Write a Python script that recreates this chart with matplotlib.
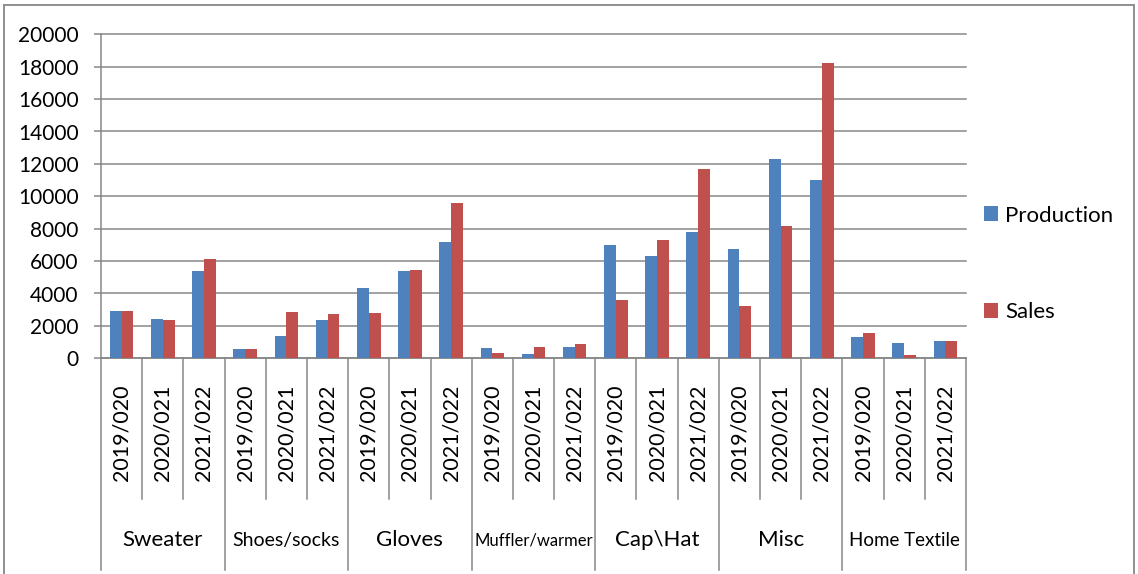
import numpy as np
import matplotlib
matplotlib.use("Agg")
import matplotlib.pyplot as plt
from matplotlib.patches import Rectangle

plt.rcParams['font.family'] = ['Lato', 'DejaVu Sans']

groups = ["Sweater", "Shoes/socks", "Gloves", "Muffler/warmer", "Cap\\Hat", "Misc", "Home Textile"]
years = ["2019/020", "2020/021", "2021/022"]
production = [2950, 2400, 5400, 600, 1350, 2350, 4350, 5400, 7200,
              650, 250, 700, 7000, 6300, 7800, 6750, 12300, 11000,
              1300, 950, 1070]
sales = [2900, 2350, 6100, 600, 2850, 2750, 2800, 5450, 9600,
         330, 700, 900, 3600, 7300, 11700, 3250, 8150, 18250,
         1550, 220, 1070]

blue = "#4F81BD"
red = "#C0504D"
gray = "#878787"
group_sizes = {"Shoes/socks": 14, "Muffler/warmer": 12, "Home Textile": 13.5}

W, H = 1138, 574
fig = plt.figure(figsize=(W / 100, H / 100), dpi=100)
ax = fig.add_axes([101 / W, 1 - 358.3 / H, 865 / W, 324 / H])

x = np.arange(len(production))
bw = 1 / 3.5
ax.bar(x - bw / 2, production, bw, color=blue, label="Production", zorder=3)
ax.bar(x + bw / 2, sales, bw, color=red, label="Sales", zorder=3)

ax.set_xlim(-0.5, len(x) - 0.5)
ax.set_ylim(0, 20000)
ax.set_yticks(np.arange(0, 20001, 2000))
ax.set_xticks([])
ax.grid(axis="y", color=gray, lw=1.1)
for gl in ax.yaxis.get_gridlines():
    gl.set_clip_on(False)
ax.set_axisbelow(True)
ax.tick_params(axis="y", length=5, width=1.1, color=gray, pad=11, labelsize=15)
for s in ["top", "right"]:
    ax.spines[s].set_visible(False)
for s in ["left", "bottom"]:
    ax.spines[s].set_color(gray)
    ax.spines[s].set_linewidth(1.1)

# category axis table
tr = ax.get_xaxis_transform()
for i in range(len(x) + 1):
    y0 = -0.653 if i % 3 == 0 else -0.434
    ax.plot([i - 0.5, i - 0.5], [0, y0], transform=tr, clip_on=False, color=gray, lw=1.1)
for i in range(len(x)):
    ax.text(i, -0.2306, years[i % 3], rotation=90, ha="center", va="center",
            transform=tr, fontsize=15.5)
for g, name in enumerate(groups):
    ax.text(3 * g + 1, -0.561, name, ha="center", va="center", transform=tr,
            fontsize=group_sizes.get(name, 16))

ax.legend(loc="center left", bbox_to_anchor=(984 / W, 1 - 264 / H),
          bbox_transform=fig.transFigure, frameon=False, fontsize=16,
          borderpad=0, borderaxespad=0, handlelength=0.65, handleheight=0.65,
          handletextpad=0.3, labelspacing=3.45)

fig.add_artist(Rectangle((4 / W, -0.05), 1130 / W, 1.05 - 5 / H, transform=fig.transFigure,
                         fill=False, edgecolor=gray, lw=1.3))

fig.savefig("out.png", dpi=100)
